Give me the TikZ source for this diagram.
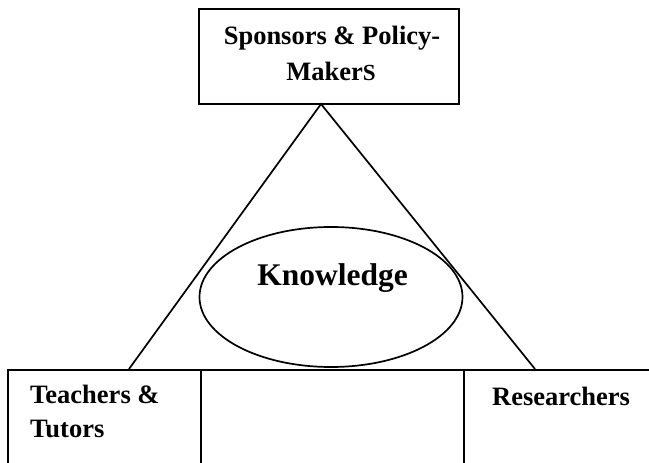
\documentclass[tikz,border=0pt]{standalone}
\usepackage{fontspec}
\setmainfont{Liberation Serif}
\usetikzlibrary{shapes.geometric}
\begin{document}
\begin{tikzpicture}[x=1pt,y=-1pt,
  line/.style={line width=1.7pt,black},
  boxshape/.style={line,draw,rectangle,inner sep=0pt},
  label/.style={font=\fontsize{26.5}{35}\selectfont\bfseries,inner sep=0pt},
  bigLabel/.style={font=\fontsize{31.5}{38}\selectfont\bfseries,inner sep=0pt}]
  \useasboundingbox (0,0) rectangle (649,463);
  \clip (0,0) rectangle (649,463);

  % top box
  \node[boxshape,minimum width=260pt,minimum height=95pt] (sponsors) at (329,56.5) {};
  \node[label,anchor=base] (sp1) at (332,45) {Sponsors \& Policy-};
  \node[label,anchor=base] (sp2) at (331,80) {Maker{\fontsize{23}{35}\selectfont S}};

  % bottom row of open boxes
  \node[boxshape,minimum width=193pt,minimum height=120pt,anchor=north west] (teachers) at (7,369) {};
  \node[boxshape,minimum width=263pt,minimum height=120pt,anchor=north west] (middle) at (200,369) {};
  \node[boxshape,minimum width=240pt,minimum height=120pt,anchor=north west] (researchers) at (463,369) {};
  \node[label,anchor=base west] (t1) at (30,403) {Teachers \&};
  \node[label,anchor=base west] (t2) at (30,437) {Tutors};
  \node[label,anchor=base west] (r1) at (492,405) {Researchers};

  % triangle
  \coordinate (apex) at (321,104);
  \coordinate (leftfoot) at (129,369);
  \coordinate (rightfoot) at (535,369);
  \draw[line] (leftfoot) -- (apex) -- (rightfoot);

  % knowledge ellipse
  \node[line,draw,ellipse,minimum width=263pt,minimum height=140pt,inner sep=0pt] (knowledge) at (331,297) {};
  \node[bigLabel,anchor=base] (k1) at (332.5,285) {Knowledge};
\end{tikzpicture}
\end{document}
